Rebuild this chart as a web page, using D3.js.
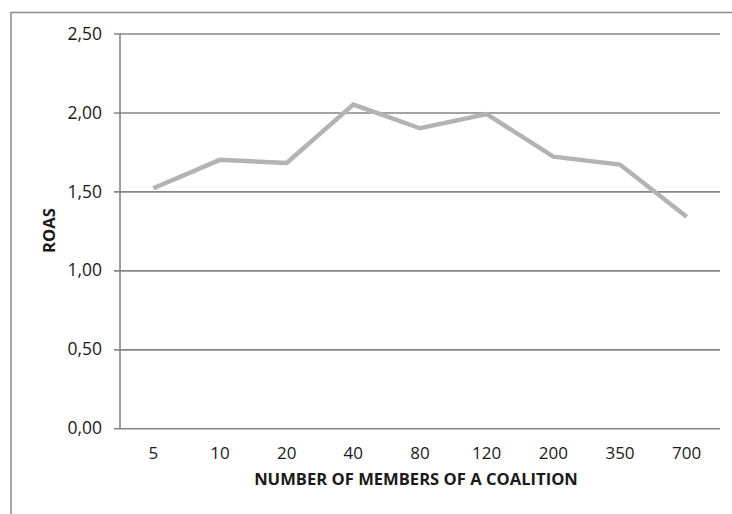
<!DOCTYPE html>
<html>
<head>
<meta charset="utf-8">
<script src="https://cdn.jsdelivr.net/npm/d3@7"></script>
<style>
  html, body { margin: 0; padding: 0; background: #fff; }
  svg { display: block; }
  text { font-family: "Open Sans", "Liberation Sans", sans-serif; fill: #1a1a1a; }
</style>
</head>
<body>
<svg id="chart" width="732" height="514"></svg>
<script>
// Coalition size categories and their ROAS values
const categories = ["5", "10", "20", "40", "80", "120", "200", "350", "700"];
const roas = [1.52, 1.70, 1.68, 2.05, 1.90, 1.99, 1.72, 1.67, 1.34];
const yTicks = [0, 0.5, 1.0, 1.5, 2.0, 2.5];
const xTitle = "NUMBER OF MEMBERS OF A COALITION";
const yTitle = "ROAS";

const svg = d3.select("#chart");
const plot = { left: 120, right: 720, top: 33.5, bottom: 428.3 };

// Outer chart frame (top and left edges visible)
svg.append("path")
  .attr("d", "M11,520 V12.5 H740")
  .attr("fill", "none")
  .attr("stroke", "#8a8a8a")
  .attr("stroke-width", 1.5);

const x = d3.scaleBand()
  .domain(categories)
  .range([plot.left, plot.right])
  .paddingInner(0)
  .paddingOuter(0);

const y = d3.scaleLinear()
  .domain([0, 2.5])
  .range([plot.bottom, plot.top]);

const fmt = v => d3.format(".2f")(v).replace(".", ",");

// Horizontal gridlines with short tick marks to the left
const yAxis = d3.axisLeft(y)
  .tickValues(yTicks)
  .tickFormat(fmt)
  .tickSize(-(plot.right - plot.left))
  .tickPadding(18);

const gy = svg.append("g")
  .attr("transform", `translate(${plot.left},0)`)
  .call(yAxis);
gy.select(".domain").remove();
gy.selectAll(".tick line")
  .attr("x1", -6)
  .attr("stroke", "#868686")
  .attr("stroke-width", 1.6);
gy.selectAll(".tick text")
  .attr("font-size", 17.5)
  .attr("fill", "#1a1a1a");

// Vertical axis line
svg.append("line")
  .attr("x1", plot.left).attr("x2", plot.left)
  .attr("y1", plot.top).attr("y2", plot.bottom)
  .attr("stroke", "#868686")
  .attr("stroke-width", 1.6);

// Category labels along the bottom
const xAxis = d3.axisBottom(x).tickSize(0).tickPadding(19);
const gx = svg.append("g")
  .attr("transform", `translate(0,${plot.bottom})`)
  .call(xAxis);
gx.select(".domain").remove();
gx.selectAll(".tick text")
  .attr("font-size", 17)
  .attr("fill", "#1a1a1a");

// ROAS line
const line = d3.line()
  .x((d, i) => x(categories[i]) + x.bandwidth() / 2)
  .y(d => y(d));

svg.append("path")
  .datum(roas)
  .attr("d", line)
  .attr("fill", "none")
  .attr("stroke", "#b3b3b3")
  .attr("stroke-width", 4.5)
  .attr("stroke-linejoin", "miter");

// Axis titles
svg.append("text")
  .attr("x", 416)
  .attr("y", 485)
  .attr("text-anchor", "middle")
  .attr("font-size", 16.6)
  .attr("font-weight", "bold")
  .text(xTitle);

svg.append("text")
  .attr("transform", `translate(54.5,230.5) rotate(-90)`)
  .attr("text-anchor", "middle")
  .attr("font-size", 16.6)
  .attr("font-weight", "bold")
  .text(yTitle);
</script>
</body>
</html>
